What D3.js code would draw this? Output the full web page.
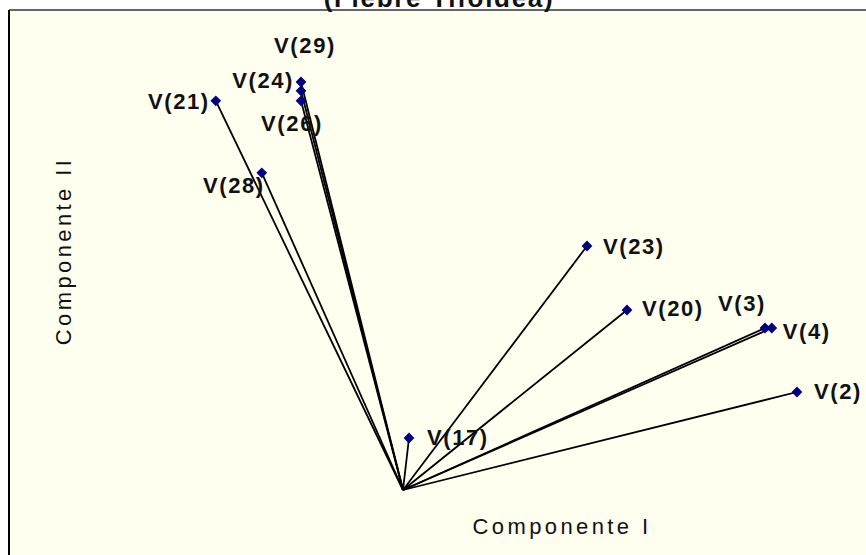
<!DOCTYPE html>
<html>
<head>
<meta charset="utf-8">
<script src="https://cdn.jsdelivr.net/npm/d3@7"></script>
<style>
  body { margin: 0; background: #fff; }
  .vector { stroke: #000; stroke-width: 1.8; }
  .point { fill: #000080; }
  .label { font-family: Arial, "Liberation Sans", sans-serif; font-weight: bold; font-size: 22px; letter-spacing: 1.6px; fill: #111; }
  .axis-title { font-family: Arial, "Liberation Sans", sans-serif; font-size: 22px; letter-spacing: 3.4px; fill: #111; }
  .title { font-family: Arial, "Liberation Sans", sans-serif; font-weight: bold; font-size: 26px; letter-spacing: 1.7px; fill: #111; }
</style>
</head>
<body>
<svg class="chart"></svg>
<script>
// variable names and their loadings on the two components
const names = ['V(2)', 'V(3)', 'V(4)', 'V(20)', 'V(23)', 'V(17)', 'V(21)', 'V(28)', 'V(29)', 'V(24)', 'V(26)'];
const comp1 = [0.985, 0.905, 0.922, 0.56, 0.46, 0.015, -0.468, -0.353, -0.255, -0.255, -0.255];
const comp2 = [0.245, 0.405, 0.405, 0.45, 0.61, 0.13, 0.973, 0.793, 1.02, 0.998, 0.973];
// label placement relative to the point: [dx, dy, anchor]
const labelPos = [
  [17, -1, 'start'], [1, -25, 'end'], [11, 3, 'start'], [15, -2, 'start'], [16, 0, 'start'],
  [18, -1, 'start'], [-6, 0, 'end'], [3, 12, 'end'], [4, -37, 'middle'], [-7, -11, 'end'], [-9, 22, 'middle'],
];
const titleText = '(Fiebre Tifoidea)';
const xTitle = 'Componente I';
const yTitle = 'Componente II';

const startApp = () => {
  const viewBox = { width: 866, height: 555 };
  const plot = { left: 9, top: 10 };
  const xScale = d3.scaleLinear().domain([0, 1]).range([403, 803]);
  const yScale = d3.scaleLinear().domain([0, 1]).range([490, 90]);

  const svg = d3.select('.chart')
    .attr('width', viewBox.width)
    .attr('height', viewBox.height);

  svg.append('rect')
    .attr('x', plot.left)
    .attr('y', plot.top)
    .attr('width', viewBox.width - plot.left + 5)
    .attr('height', viewBox.height - plot.top + 5)
    .attr('fill', '#fffff0');

  svg.append('line')
    .attr('x1', plot.left).attr('y1', plot.top)
    .attr('x2', viewBox.width).attr('y2', plot.top)
    .attr('stroke', '#333').attr('stroke-width', 1.5);
  svg.append('line')
    .attr('x1', plot.left).attr('y1', plot.top)
    .attr('x2', plot.left).attr('y2', viewBox.height)
    .attr('stroke', '#000').attr('stroke-width', 2);

  svg.append('text')
    .classed('title', true)
    .attr('x', 439)
    .attr('y', 7)
    .attr('text-anchor', 'middle')
    .text(titleText);

  const data = names.map((name, i) => ({
    name, x: comp1[i], y: comp2[i], pos: labelPos[i],
  }));

  svg.selectAll('line.vector')
    .data(data)
    .enter()
    .append('line')
    .classed('vector', true)
    .attr('x1', xScale(0))
    .attr('y1', yScale(0))
    .attr('x2', ({ x }) => xScale(x))
    .attr('y2', ({ y }) => yScale(y));

  const diamond = d3.symbol().type(d3.symbolSquare).size(58);
  svg.selectAll('path.point')
    .data(data)
    .enter()
    .append('path')
    .classed('point', true)
    .attr('d', diamond)
    .attr('transform', ({ x, y }) => `translate(${xScale(x)}, ${yScale(y)}) rotate(45)`);

  svg.selectAll('text.label')
    .data(data)
    .enter()
    .append('text')
    .classed('label', true)
    .attr('x', ({ x, pos }) => xScale(x) + pos[0])
    .attr('y', ({ y, pos }) => yScale(y) + pos[1])
    .attr('dy', '0.35em')
    .attr('text-anchor', ({ pos }) => pos[2])
    .text(({ name }) => name);

  svg.append('text')
    .classed('axis-title', true)
    .attr('x', 562)
    .attr('y', 534)
    .attr('text-anchor', 'middle')
    .text(xTitle);

  svg.append('text')
    .classed('axis-title', true)
    .attr('transform', 'translate(71, 251) rotate(-90)')
    .attr('text-anchor', 'middle')
    .text(yTitle);
};

window.onload = startApp;
</script>
</body>
</html>
